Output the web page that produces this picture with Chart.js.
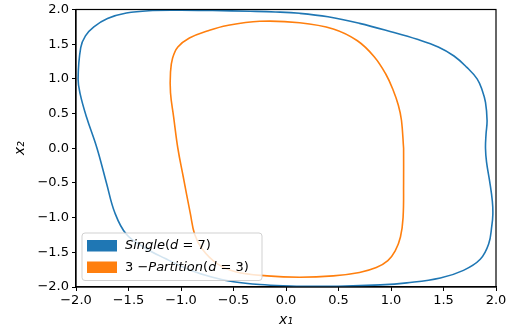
<!DOCTYPE html>
<html>
<head>
<meta charset="utf-8">
<script src="https://cdn.jsdelivr.net/npm/chart.js@4/dist/chart.umd.min.js"></script>
<style>
  html, body { margin: 0; padding: 0; background: #fff; }
  #wrap { width: 513px; height: 333px; position: relative; }
</style>
</head>
<body>
<div id="wrap"><canvas id="c" width="513" height="333"></canvas></div>
<script>
// ---- data ----
const seriesNames = ['Single(d = 7)', '3 \u2212Partition(d = 3)'];
const tickValues = [-2.0, -1.5, -1.0, -0.5, 0.0, 0.5, 1.0, 1.5, 2.0];

const singleX = [0.10,-0.25,-0.50,-0.70,-0.92,-1.15,-1.35,-1.52,-1.63,-1.71,-1.80,-1.90,-1.96,-1.98,-1.955,-1.91,-1.83,-1.70,-1.52,-1.27,-1.00,-0.70,-0.34,-0.10,0.13,0.40,0.70,1.00,1.25,1.45,1.60,1.72,1.82,1.87,1.90,1.915,1.905,1.90,1.91,1.94,1.965,1.97,1.96,1.93,1.85,1.69,1.47,1.15,0.90,0.50,0.10];
const singleY = [-1.99,-1.965,-1.925,-1.86,-1.75,-1.59,-1.43,-1.24,-0.93,-0.50,0.00,0.45,0.78,1.00,1.45,1.62,1.75,1.87,1.95,1.985,1.99,1.985,1.975,1.965,1.945,1.895,1.80,1.68,1.57,1.46,1.33,1.17,1.00,0.83,0.66,0.40,0.20,0.00,-0.20,-0.48,-0.76,-0.95,-1.12,-1.38,-1.60,-1.76,-1.87,-1.94,-1.97,-1.99,-1.99];

const partX = [1.12,1.12,1.115,1.09,1.04,0.97,0.86,0.70,0.45,0.13,-0.18,-0.48,-0.66,-0.80,-0.87,-0.91,-0.98,-1.03,-1.07,-1.10,-1.10,-1.08,-1.03,-0.92,-0.75,-0.56,-0.25,0.13,0.45,0.68,0.84,0.95,1.02,1.07,1.10,1.12];
const partY = [0.00,-0.50,-1.00,-1.28,-1.48,-1.62,-1.72,-1.79,-1.84,-1.86,-1.84,-1.78,-1.66,-1.45,-1.24,-0.95,-0.40,0.00,0.45,0.80,1.10,1.30,1.46,1.59,1.69,1.77,1.83,1.81,1.72,1.55,1.32,1.07,0.84,0.62,0.40,0.00];

// legend label pieces (text, italic?) as mathtext renders them
const legendPieces = [
  [['Single', true], ['(', false], ['d', true], [' = 7)', false]],
  [['3 \u2212', false], ['Partition', true], ['(', false], ['d', true], [' = 3)', false]]
];

const toPts = (xs, ys) => xs.map((x, i) => ({ x: x, y: ys[i] }));
const fmt = v => (Math.round(v * 10) / 10).toFixed(1).replace('-', '\u2212');
const FONT = 'DejaVu Sans';

const legendPlugin = {
  id: 'innerLegend',
  afterDraw(chart) {
    const ctx = chart.ctx, ca = chart.chartArea;
    const x0 = ca.left + 6, y1 = ca.bottom - 6.5, w = 180, h = 47.5, y0 = y1 - h, r = 3;
    ctx.save();
    ctx.beginPath();
    ctx.moveTo(x0 + r, y0);
    ctx.lineTo(x0 + w - r, y0); ctx.quadraticCurveTo(x0 + w, y0, x0 + w, y0 + r);
    ctx.lineTo(x0 + w, y1 - r); ctx.quadraticCurveTo(x0 + w, y1, x0 + w - r, y1);
    ctx.lineTo(x0 + r, y1); ctx.quadraticCurveTo(x0, y1, x0, y1 - r);
    ctx.lineTo(x0, y0 + r); ctx.quadraticCurveTo(x0, y0, x0 + r, y0);
    ctx.closePath();
    ctx.fillStyle = 'rgba(255,255,255,0.8)';
    ctx.fill();
    ctx.strokeStyle = 'rgba(204,204,204,0.9)';
    ctx.lineWidth = 1;
    ctx.stroke();
    chart.data.datasets.forEach((ds, i) => {
      const py = y0 + 7 + i * 21.5;
      ctx.fillStyle = ds.borderColor;
      ctx.fillRect(x0 + 5, py, 30, 11.5);
      let tx = x0 + 43;
      const ty = py + 6;
      ctx.fillStyle = '#000';
      ctx.textBaseline = 'middle';
      ctx.textAlign = 'left';
      legendPieces[i].forEach(([t, it]) => {
        ctx.font = (it ? 'italic ' : '') + '13px "' + FONT + '"';
        ctx.fillText(t, tx, ty);
        tx += ctx.measureText(t).width;
      });
    });
    ctx.restore();
  }
};

const framePlugin = {
  id: 'frame',
  afterDatasetsDraw(chart) {
    const ctx = chart.ctx, ca = chart.chartArea;
    ctx.save();
    ctx.strokeStyle = '#000';
    ctx.lineWidth = 1.2;
    ctx.strokeRect(ca.left, ca.top, ca.right - ca.left, ca.bottom - ca.top);
    ctx.restore();
  }
};

const axisCommon = {
  type: 'linear',
  min: -2, max: 2,
  afterBuildTicks: s => { s.ticks = tickValues.map(v => ({ value: v })); },
  ticks: { color: '#000', font: { family: FONT, size: 13, lineHeight: 1.0 }, padding: 3, callback: v => fmt(v), maxRotation: 0, autoSkip: false },
  grid: { display: true, drawOnChartArea: false, drawTicks: true, tickLength: 4, color: '#000', lineWidth: 1 },
  border: { display: true, color: '#000', width: 1.2 }
};

new Chart(document.getElementById('c'), {
  type: 'scatter',
  data: {
    datasets: [
      { label: seriesNames[0], data: toPts(singleX, singleY), showLine: true, borderColor: '#1f77b4', backgroundColor: '#1f77b4', borderWidth: 1.6, pointRadius: 0, tension: 0.4, fill: false },
      { label: seriesNames[1], data: toPts(partX, partY), showLine: true, borderColor: '#ff7f0e', backgroundColor: '#ff7f0e', borderWidth: 1.6, pointRadius: 0, tension: 0.4, fill: false }
    ]
  },
  options: {
    responsive: false,
    animation: false,
    devicePixelRatio: 1,
    layout: { padding: { left: 0, right: 17, top: 6, bottom: 0 } },
    plugins: { legend: { display: false }, tooltip: { enabled: false } },
    scales: {
      x: Object.assign({}, axisCommon, {
        position: 'bottom',
        title: { display: true, text: 'x\u2081', color: '#000', font: { family: FONT, size: 14, style: 'italic' }, padding: { top: 0, bottom: 4 } },
        afterFit: s => { s.height = 46; }
      }),
      y: Object.assign({}, axisCommon, {
        position: 'left',
        title: { display: true, text: 'x\u2082', color: '#000', font: { family: FONT, size: 14, style: 'italic' }, padding: { top: 12, bottom: 0 } },
        afterFit: s => { s.width = 76; }
      })
    }
  },
  plugins: [framePlugin, legendPlugin]
});
</script>
</body>
</html>
